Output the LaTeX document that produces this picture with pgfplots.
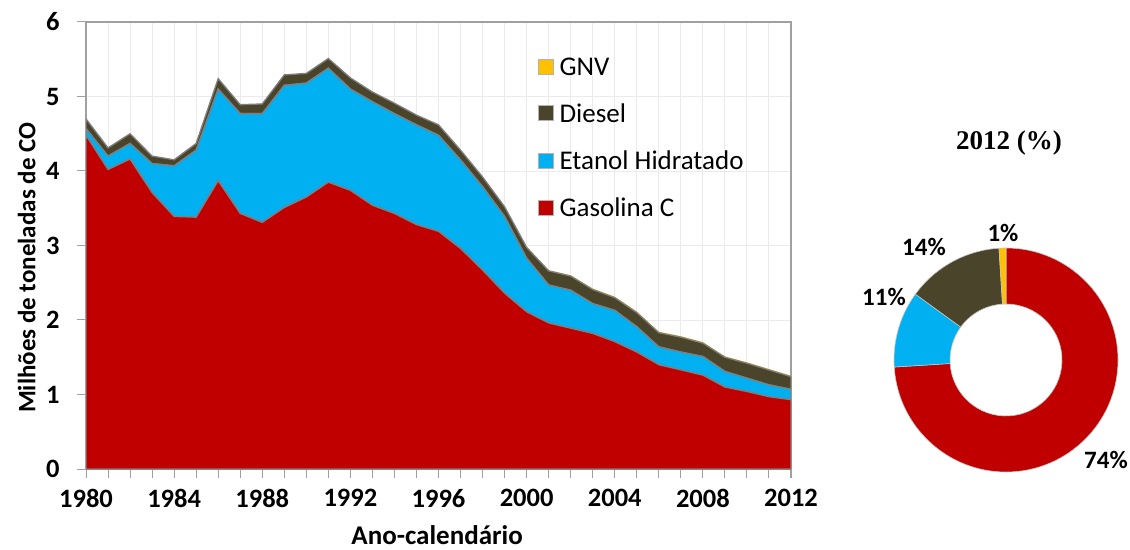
\documentclass[border=0pt]{standalone}
\usepackage{pgfplots}
\usepackage{pgfplotstable}
\pgfplotsset{compat=1.18}
\usepackage{fontspec}
\setmainfont{Carlito}
\newfontfamily\serifbf{Liberation Serif}
\definecolor{gasc}{HTML}{C00000}
\definecolor{etac}{HTML}{00B0F0}
\definecolor{diec}{HTML}{4A452A}
\definecolor{gnvc}{HTML}{FFC000}
\definecolor{edgec}{HTML}{7F7F7F}
\definecolor{gridc}{HTML}{EBEBEB}
\definecolor{axc}{HTML}{A0A0A0}

\pgfplotstableread{
year gas eta die gnv
1980 4.48 0.09 0.13 0
1981 4.02 0.18 0.11 0
1982 4.16 0.21 0.13 0
1983 3.71 0.39 0.10 0
1984 3.39 0.68 0.08 0
1985 3.38 0.90 0.09 0
1986 3.87 1.23 0.14 0
1987 3.43 1.34 0.12 0
1988 3.31 1.46 0.13 0
1989 3.51 1.64 0.14 0
1990 3.65 1.53 0.13 0
1991 3.85 1.53 0.13 0
1992 3.74 1.36 0.15 0
1993 3.54 1.39 0.13 0
1994 3.43 1.34 0.14 0
1995 3.28 1.34 0.13 0
1996 3.19 1.29 0.14 0
1997 2.96 1.19 0.13 0
1998 2.67 1.12 0.13 0
1999 2.36 1.03 0.13 0
2000 2.11 0.72 0.145 0.005
2001 1.96 0.51 0.19 0.008
2002 1.89 0.51 0.19 0.010
2003 1.82 0.40 0.19 0.012
2004 1.71 0.42 0.17 0.013
2005 1.57 0.34 0.19 0.013
2006 1.40 0.24 0.19 0.013
2007 1.33 0.24 0.20 0.013
2008 1.26 0.25 0.18 0.013
2009 1.10 0.21 0.19 0.012
2010 1.04 0.18 0.20 0.012
2011 0.97 0.16 0.20 0.012
2012 0.93 0.14 0.17 0.012
}\data

\begin{document}
\begin{tikzpicture}[x=1pt,y=1pt]
\path[use as bounding box] (0,0) rectangle (1130,549);
\begin{axis}[
  at={(86pt,80pt)}, anchor=south west,
  scale only axis, width=705pt, height=447pt,
  xmin=1980, xmax=2012, ymin=0, ymax=6,
  stack plots=y,
  xtick={1980,1984,...,2012},
  minor xtick={1980,...,2012},
  ytick={0,1,...,6},
  xtick pos=bottom, ytick pos=left,
  tick align=outside,
  major tick length=9pt, minor tick length=9pt,
  every tick/.style={axc, line width=1pt},
  grid=both,
  major grid style={gridc, line width=0.9pt},
  minor grid style={gridc, line width=0.9pt},
  axis line style={axc, line width=1.3pt},
  /pgf/number format/assume math mode=true,
  /pgf/number format/1000 sep={},
  xticklabel style={font=\bfseries\fontsize{26.5}{29}\selectfont, yshift=-8pt},
  yticklabel style={font=\bfseries\fontsize{26.5}{29}\selectfont, anchor=east, xshift=-14pt},
  xlabel={Ano-calendário},
  ylabel={Milhões de toneladas de CO},
  xlabel style={font=\bfseries\fontsize{27}{30}\selectfont, at={(axis description cs:0.498,-0.148)}, anchor=center},
  ylabel style={font=\bfseries\fontsize{25}{28}\selectfont, at={(axis description cs:-0.084,0.45)}, anchor=center},
  reverse legend,
  legend cell align=left,
  legend style={at={(0.636,0.93)}, anchor=north west, draw=none, fill=none,
    font=\fontsize{27}{30}\selectfont, row sep=23pt},
  legend image code/.code={\draw[#1, draw=gray!60, line width=0.6pt] (0pt,-7pt) rectangle (15pt,8pt); \path (19pt,0pt);},
]
\addplot[fill=gasc, draw=edgec, line width=1.3pt] table[x=year,y=gas] {\data} \closedcycle;
\addlegendentry{Gasolina C}
\addplot[fill=etac, draw=edgec, line width=1.3pt] table[x=year,y=eta] {\data} \closedcycle;
\addlegendentry{Etanol Hidratado}
\addplot[fill=diec, draw=edgec, line width=1.3pt] table[x=year,y=die] {\data} \closedcycle;
\addlegendentry{Diesel}
\addplot[fill=gnvc, draw=none] table[x=year,y=gnv] {\data} \closedcycle;
\addlegendentry{GNV}
\end{axis}

% donut chart for 2012
\def\cx{1006}\def\cy{189}
\def\angstart{90}
\foreach \p/\c in {74/gasc,11/etac,14/diec,1/gnvc}{
  \pgfmathsetmacro\angend{\angstart-3.6*\p}
  \filldraw[fill=\c, draw=gray!45, line width=0.6pt]
    ([shift={(\angstart:112)}]\cx,\cy) arc[start angle=\angstart, end angle=\angend, radius=112]
    -- ([shift={(\angend:56)}]\cx,\cy) arc[start angle=\angend, end angle=\angstart, radius=56] -- cycle;
  \xdef\angstart{\angend}
}
\node[font=\serifbf\bfseries\fontsize{27}{30}\selectfont] at (1009,406) {2012 (\%)};
\node[font=\bfseries\fontsize{25}{28}\selectfont] at (1003,316) {1\%};
\node[font=\bfseries\fontsize{25}{28}\selectfont] at (924,302) {14\%};
\node[font=\bfseries\fontsize{25}{28}\selectfont] at (884,252) {11\%};
\node[font=\bfseries\fontsize{25}{28}\selectfont] at (1106,89) {74\%};
\end{tikzpicture}
\end{document}
